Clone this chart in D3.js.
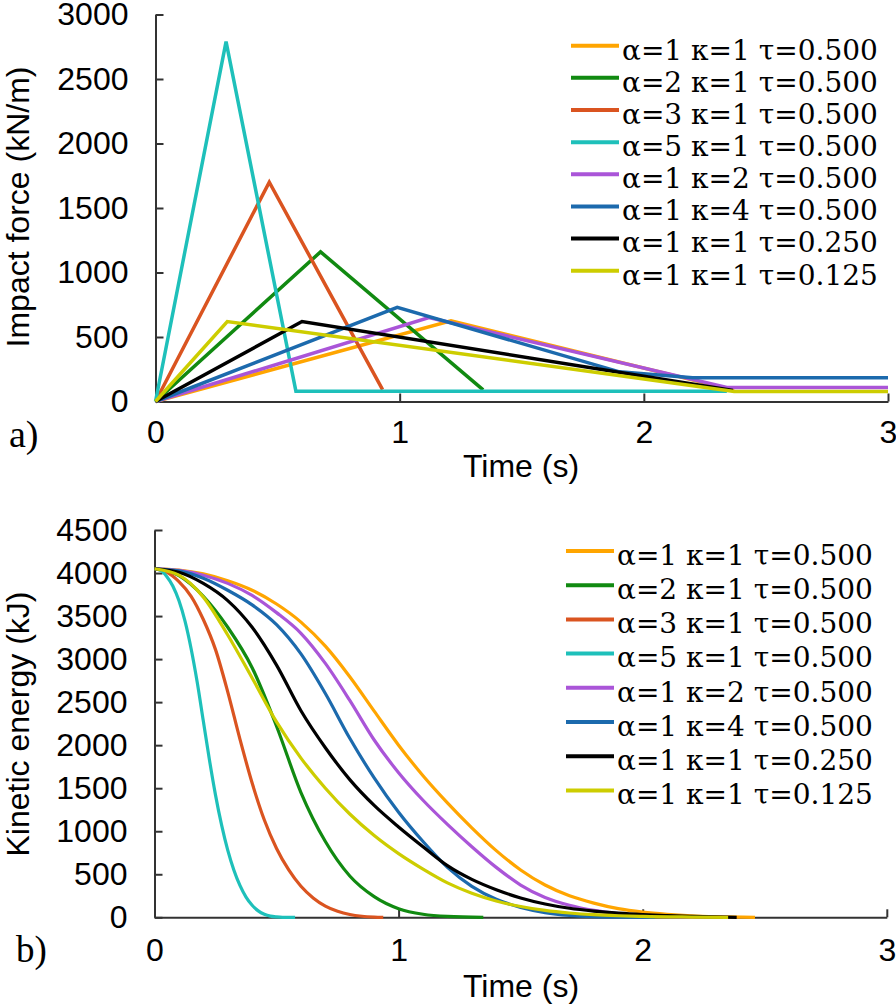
<!DOCTYPE html>
<html><head><meta charset="utf-8">
<script src="https://cdn.jsdelivr.net/npm/d3@7"></script>
<style>body{margin:0;background:#fff} svg{display:block}</style>
</head><body><svg id="c" width="896" height="1008"></svg>
<script>
// ---------- data ----------
const seriesLabels = [
  "α=1 κ=1 τ=0.500","α=2 κ=1 τ=0.500","α=3 κ=1 τ=0.500","α=5 κ=1 τ=0.500",
  "α=1 κ=2 τ=0.500","α=1 κ=4 τ=0.500","α=1 κ=1 τ=0.250","α=1 κ=1 τ=0.125"
];
const seriesColors = ["#FFA500","#118A11","#DA5420","#1EC0BA","#AA55D8","#1C6AAD","#000000","#CDCD00"];

const xTicks = [0,1,2,3];
const forceTicks = [0,500,1000,1500,2000,2500,3000];
const energyTicks = [0,500,1000,1500,2000,2500,3000,3500,4000,4500];

// (a) impact force [time s, kN/m]
const force_a1k1t500 = [[0,0],[1.21,625],[2.37,88]];
const force_a2k1t500 = [[0,0],[0.676,1160],[1.342,90]];
const force_a3k1t500 = [[0,0],[0.466,1700],[0.93,92]];
const force_a5k1t500 = [[0,0],[0.289,2790],[0.575,80],[2.34,80]];
const force_a1k2t500 = [[0,0],[1.12,650],[2.34,108],[3,108]];
const force_a1k4t500 = [[0,0],[0.99,730],[1.9,230],[2.2,185],[3,185]];
const force_a1k1t250 = [[0,0],[0.6,620],[2.365,85]];
const force_a1k1t125 = [[0,0],[0.294,620],[2.37,78],[3,78]];

// (b) kinetic energy [time s, kJ]
const energy_a1k1t500 = [[0,4050],[0.1,4035],[0.2,3990],[0.3,3910],[0.4,3800],[0.5,3640],[0.6,3430],[0.7,3150],[0.8,2795],[0.9,2395],[1.0,2000],[1.1,1645],[1.2,1330],[1.3,1040],[1.4,775],[1.5,550],[1.6,375],[1.7,250],[1.8,165],[1.9,100],[2.0,60],[2.1,35],[2.2,18],[2.3,8],[2.46,0]];
const energy_a2k1t500 = [[0,4050],[0.1,3970],[0.2,3730],[0.3,3370],[0.4,2900],[0.5,2220],[0.6,1450],[0.7,880],[0.8,480],[0.9,240],[1.0,100],[1.1,35],[1.2,10],[1.347,0]];
const energy_a3k1t500 = [[0,4050],[0.05,4010],[0.1,3900],[0.15,3730],[0.2,3460],[0.25,3110],[0.3,2620],[0.35,2070],[0.4,1560],[0.45,1130],[0.5,800],[0.55,550],[0.6,360],[0.65,225],[0.7,130],[0.75,70],[0.8,32],[0.85,12],[0.9,3],[0.937,0]];
const energy_a5k1t500 = [[0,4050],[0.025,4030],[0.05,3960],[0.075,3850],[0.1,3680],[0.125,3440],[0.15,3120],[0.175,2730],[0.2,2280],[0.225,1830],[0.25,1420],[0.275,1070],[0.3,780],[0.325,550],[0.35,370],[0.375,235],[0.4,140],[0.425,75],[0.45,35],[0.475,13],[0.5,4],[0.525,0],[0.576,0]];
const energy_a1k2t500 = [[0,4050],[0.1,4030],[0.2,3975],[0.3,3880],[0.4,3740],[0.5,3540],[0.6,3300],[0.7,2950],[0.8,2520],[0.9,2060],[1.0,1680],[1.1,1360],[1.2,1080],[1.3,820],[1.4,580],[1.5,375],[1.6,230],[1.7,140],[1.8,80],[1.9,42],[2.0,20],[2.1,8],[2.35,0]];
const energy_a1k4t500 = [[0,4050],[0.1,4025],[0.2,3940],[0.3,3800],[0.4,3630],[0.5,3400],[0.6,3060],[0.7,2600],[0.8,2080],[0.9,1620],[1.0,1220],[1.1,880],[1.2,580],[1.3,360],[1.4,210],[1.5,115],[1.6,55],[1.7,22],[1.8,7],[1.9,2],[2.05,0]];
const energy_a1k1t250 = [[0,4050],[0.1,4010],[0.2,3880],[0.3,3680],[0.4,3370],[0.5,2930],[0.6,2400],[0.7,1970],[0.8,1600],[0.9,1300],[1.0,1050],[1.1,820],[1.2,600],[1.3,440],[1.4,320],[1.5,225],[1.6,155],[1.7,105],[1.8,72],[1.9,48],[2.0,31],[2.1,19],[2.2,10],[2.385,0]];
const energy_a1k1t125 = [[0,4050],[0.1,3975],[0.2,3720],[0.3,3280],[0.4,2780],[0.5,2270],[0.6,1850],[0.7,1500],[0.8,1200],[0.9,950],[1.0,740],[1.1,560],[1.2,400],[1.3,280],[1.4,190],[1.5,125],[1.6,80],[1.7,50],[1.8,30],[1.9,18],[2.0,10],[2.2,3],[2.35,0]];

const forceSeries = [force_a1k1t500,force_a2k1t500,force_a3k1t500,force_a5k1t500,force_a1k2t500,force_a1k4t500,force_a1k1t250,force_a1k1t125];
const energySeries = [energy_a1k1t500,energy_a2k1t500,energy_a3k1t500,energy_a5k1t500,energy_a1k2t500,energy_a1k4t500,energy_a1k1t250,energy_a1k1t125];

// ---------- drawing ----------
const svg = d3.select("#c");
const SANS = "'Liberation Sans', Arial, Helvetica, sans-serif";
const AXIS = "#333";

function panel(cfg){
  const x = d3.scaleLinear().domain([0,3]).range([cfg.x0, cfg.x1]);
  const y = d3.scaleLinear().domain(cfg.ydom).range([cfg.y0, cfg.y1]);
  const g = svg.append("g");

  const ya = g.append("g").attr("transform",`translate(${cfg.x0},0)`)
    .call(d3.axisLeft(y).tickValues(cfg.yticks).tickSize(-8).tickSizeOuter(0).tickPadding(27).tickFormat(d3.format("d")));
  const xa = g.append("g").attr("transform",`translate(0,${cfg.y0})`)
    .call(d3.axisBottom(x).tickValues(xTicks).tickSize(-8).tickSizeOuter(0).tickPadding(cfg.xpad).tickFormat(d3.format("d")));
  [ya,xa].forEach(a=>{
    a.select(".domain").attr("stroke",AXIS).attr("stroke-width",2);
    a.selectAll(".tick line").attr("stroke",AXIS).attr("stroke-width",2);
    a.selectAll(".tick text").attr("fill","#000").style("font-family",SANS).style("font-size","32px");
  });

  const line = d3.line().x(d=>x(d[0])).y(d=>y(d[1])).curve(cfg.curve);
  g.append("g").selectAll("path").data(cfg.series).join("path")
    .attr("d", line).attr("fill","none")
    .attr("stroke",(d,i)=>seriesColors[i]).attr("stroke-width",cfg.lw)
    .attr("stroke-linejoin","miter").attr("stroke-linecap","butt");

  // axis titles
  g.append("text").attr("x",cfg.xtitleX).attr("y",cfg.xtitleY).attr("text-anchor","middle")
    .style("font-family",SANS).style("font-size","32px").text("Time (s)");
  g.append("text").attr("transform",`translate(29,${cfg.ytitleY}) rotate(-90)`).attr("text-anchor","middle")
    .style("font-family",SANS).style("font-size","32px").text(cfg.ytitle);
  g.append("text").attr("x",cfg.plX).attr("y",cfg.plY)
    .style("font-family","'Liberation Serif','Times New Roman',serif").style("font-size",cfg.plSize+"px").text(cfg.panelLabel);

  // legend
  const lg = g.append("g").selectAll("g").data(seriesLabels).join("g")
    .attr("transform",(d,i)=>`translate(0,${cfg.legY + i*cfg.legDy})`);
  lg.append("line").attr("x1",cfg.legX).attr("x2",cfg.legX+48).attr("y1",0).attr("y2",0)
    .attr("stroke",(d,i)=>seriesColors[i]).attr("stroke-width",4);
  lg.append("text").attr("x",cfg.legX+51).attr("y",13.8)
    .style("font-family","'DejaVu Serif', serif").style("font-size","28px").attr("fill","#000").text(d=>d);
}

panel({
  x0:155.5, x1:888, y0:401.5, y1:14.5, ydom:[0,3000], yticks:forceTicks,
  series:forceSeries, curve:d3.curveLinear, lw:3.5, xpad:19,
  xtitleX:521, xtitleY:477, ytitle:"Impact force (kN/m)", ytitleY:207,
  panelLabel:"a)", plX:9, plY:447, plSize:38,
  legX:571, legY:45.7, legDy:32.15
});
panel({
  x0:154.5, x1:886.8, y0:917.3, y1:530, ydom:[0,4500], yticks:energyTicks,
  series:energySeries, curve:d3.curveMonotoneX, lw:3.2, xpad:21,
  xtitleX:521, xtitleY:997, ytitle:"Kinetic energy (kJ)", ytitleY:724,
  panelLabel:"b)", plX:16, plY:962, plSize:37,
  legX:566, legY:551, legDy:34.2
});
</script></body></html>
